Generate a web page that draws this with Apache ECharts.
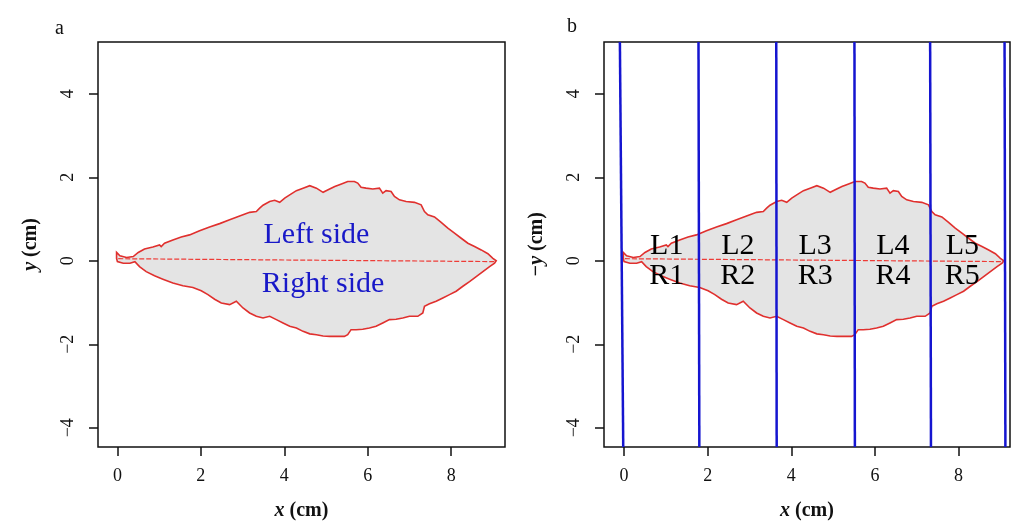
<html>

<head>
  <title>Leaf outline and sections</title>
  <script src="https://cdn.jsdelivr.net/npm/echarts@6/dist/echarts.min.js"></script>
</head>

<body style="margin:0">
  <div id="main" style="width: 1012px;height:523px;"></div>
  <script>
    // upper edge of the leaf (left side), base -> tip, in cm
    const upperX = [-0.02, 0.06, 0.22, 0.38, 0.50, 0.65, 0.85, 1.01, 1.05, 1.13, 1.33, 1.53, 1.73, 1.97, 2.21, 2.45, 2.69, 2.85, 3.01, 3.17, 3.33, 3.41, 3.49, 3.65, 3.77, 3.89, 4.01, 4.13, 4.29, 4.45, 4.61, 4.77, 4.93, 5.05, 5.21, 5.37, 5.52, 5.68, 5.76, 5.84, 5.96, 6.12, 6.28, 6.36, 6.44, 6.56, 6.64, 6.76, 6.92, 7.12, 7.28, 7.36, 7.44, 7.60, 7.76, 7.92, 8.08, 8.24, 8.40, 8.56, 8.72, 8.88, 9.00, 9.08]
    const upperY = [0.20, 0.12, 0.08, 0.10, 0.20, 0.28, 0.33, 0.38, 0.34, 0.42, 0.50, 0.57, 0.62, 0.72, 0.81, 0.89, 0.98, 1.04, 1.10, 1.16, 1.18, 1.26, 1.33, 1.42, 1.45, 1.40, 1.50, 1.58, 1.68, 1.74, 1.80, 1.74, 1.64, 1.70, 1.78, 1.84, 1.90, 1.90, 1.86, 1.76, 1.74, 1.72, 1.74, 1.62, 1.68, 1.66, 1.54, 1.46, 1.42, 1.40, 1.34, 1.18, 1.10, 1.05, 0.92, 0.78, 0.66, 0.54, 0.42, 0.34, 0.26, 0.17, 0.06, 0.00]
    // lower edge (right side), tip -> base
    const lowerX = [9.04, 8.92, 8.76, 8.60, 8.44, 8.28, 8.12, 7.96, 7.80, 7.64, 7.48, 7.36, 7.32, 7.20, 7.00, 6.84, 6.68, 6.52, 6.36, 6.20, 6.04, 5.88, 5.72, 5.60, 5.52, 5.44, 5.29, 5.09, 4.93, 4.77, 4.61, 4.45, 4.29, 4.13, 3.97, 3.81, 3.65, 3.49, 3.33, 3.17, 3.01, 2.85, 2.69, 2.49, 2.33, 2.17, 2.01, 1.81, 1.57, 1.33, 1.09, 0.89, 0.69, 0.53, 0.42, 0.30, 0.14, 0.00, -0.02]
    const lowerY = [-0.06, -0.14, -0.26, -0.38, -0.50, -0.61, -0.73, -0.81, -0.89, -0.97, -1.03, -1.09, -1.25, -1.33, -1.33, -1.37, -1.40, -1.41, -1.49, -1.57, -1.61, -1.64, -1.65, -1.65, -1.77, -1.81, -1.81, -1.81, -1.80, -1.77, -1.75, -1.69, -1.61, -1.57, -1.49, -1.41, -1.33, -1.37, -1.33, -1.25, -1.13, -0.97, -1.05, -1.01, -0.92, -0.81, -0.72, -0.64, -0.60, -0.53, -0.44, -0.36, -0.26, -0.14, -0.02, -0.06, -0.06, -0.02, 0.06]
    // midrib, base -> tip
    const midX = [0.02, 9.08]
    const midY = [0.05, -0.02]
    // section cuts in panel b: x where each cut meets the top / bottom of the frame
    const cutTop = [-0.10, 1.78, 3.64, 5.51, 7.32, 9.10]
    const cutBottom = [-0.02, 1.80, 3.65, 5.52, 7.34, 9.12]
    // section labels in panel b
    const sectionNo = ['1', '2', '3', '4', '5']
    const sectionX = [1.02, 2.72, 4.57, 6.43, 8.09]
    const leftY = 0.35
    const rightY = -0.36
    // side labels in panel a
    const sideNames = ['Left side', 'Right side']
    const sideX = [4.77, 4.93]
    const sideY = [0.62, -0.55]
    // ticks
    const xTicks = [0, 2, 4, 6, 8]
    const yTicks = [-4, -2, 0, 2, 4]

    const Y_MIN = -4.46, Y_MAX = 5.24
    const serif = "'Liberation Serif', 'DejaVu Serif', serif"
    const chart = echarts.init(document.getElementById('main'));

    const leafPts = []
    upperX.forEach((x, i) => leafPts.push([x, upperY[i]]))
    lowerX.forEach((x, i) => leafPts.push([x, lowerY[i]]))
    const midPts = midX.map((x, i) => [x, midY[i]])

    const titleStyle = {
      fontFamily: serif, fontSize: 20, fontWeight: 'bold', color: '#111',
      rich: { i: { fontFamily: serif, fontSize: 20, fontWeight: 'bold', fontStyle: 'italic', color: '#111' } }
    }

    function xAxis(idx, min, max) {
      return {
        gridIndex: idx, type: 'value', min: min, max: max, position: 'bottom',
        name: '{i|x} (cm)', nameLocation: 'middle', nameGap: 48,
        nameTextStyle: titleStyle,
        axisLine: { show: false, onZero: false },
        axisTick: { show: true, inside: false, length: 9, customValues: xTicks, lineStyle: { color: '#111', width: 1.5 } },
        axisLabel: { customValues: xTicks, margin: 16, fontFamily: serif, fontSize: 18, color: '#111' },
        splitLine: { show: false }
      }
    }
    function yAxis(idx, title) {
      return {
        gridIndex: idx, type: 'value', min: Y_MIN, max: Y_MAX, position: 'left',
        name: title, nameLocation: 'middle', nameGap: 51, nameRotate: 90,
        nameTextStyle: titleStyle,
        axisLine: { show: false, onZero: false },
        axisTick: { show: true, inside: false, length: 9, customValues: yTicks, lineStyle: { color: '#111', width: 1.5 } },
        axisLabel: {
          customValues: yTicks, rotate: 90, margin: 16, fontFamily: serif, fontSize: 18, color: '#111',
          formatter: v => String(v).replace('-', '\u2212')
        },
        splitLine: { show: false }
      }
    }

    // leaf outline + fill, and the dashed midrib drawn on top
    function leafSeries(idx) {
      return {
        type: 'custom', xAxisIndex: idx, yAxisIndex: idx, silent: true, z: 1,
        data: leafPts,
        renderItem: function (params, api) {
          if (params.dataIndex !== 0) return null;
          const pts = leafPts.map(p => api.coord(p));
          const mid = midPts.map(p => api.coord(p));
          return {
            type: 'group', children: [
              { type: 'polygon', shape: { points: pts }, style: { fill: '#e4e4e4', stroke: '#e0302e', lineWidth: 1.6 } },
              { type: 'polyline', shape: { points: mid }, style: { fill: null, stroke: '#ee3b36', lineWidth: 1.2, lineDash: [5, 2] } }
            ]
          };
        }
      }
    }

    const series = [leafSeries(0), leafSeries(1)]

    series.push({
      type: 'scatter', xAxisIndex: 0, yAxisIndex: 0, silent: true, symbolSize: 1, z: 5,
      itemStyle: { color: 'rgba(0,0,0,0)', opacity: 1 },
      data: sideNames.map((n, i) => [sideX[i], sideY[i], n]),
      label: {
        show: true, position: 'inside', formatter: p => p.data[2], textBorderWidth: 0,
        fontFamily: serif, fontSize: 30, color: '#1818c8'
      }
    })

    cutTop.forEach((t, i) => {
      series.push({
        type: 'line', xAxisIndex: 1, yAxisIndex: 1, silent: true, symbol: 'none', z: 4,
        data: [[cutBottom[i], Y_MIN], [t, Y_MAX]],
        lineStyle: { color: '#1515d0', width: 2.5 }
      })
    })

    series.push({
      type: 'scatter', xAxisIndex: 1, yAxisIndex: 1, silent: true, symbolSize: 1, z: 5,
      itemStyle: { color: 'rgba(0,0,0,0)', opacity: 1 },
      data: sectionNo.map((n, i) => [sectionX[i], leftY, 'L' + n])
        .concat(sectionNo.map((n, i) => [sectionX[i], rightY, 'R' + n])),
      label: {
        show: true, position: 'inside', formatter: p => p.data[2], textBorderWidth: 0,
        fontFamily: serif, fontSize: 30, color: '#000'
      }
    })

    const option = {
      animation: false,
      backgroundColor: '#fff',
      graphic: [
        { type: 'text', x: 55, y: 13, style: { text: 'a', font: '20px ' + serif, fill: '#111' } },
        { type: 'text', x: 567, y: 11, style: { text: 'b', font: '20px ' + serif, fill: '#111' } }
      ],
      grid: [
        { left: 98, top: 42, width: 407, height: 405, show: true, borderColor: '#111', borderWidth: 1.5, backgroundColor: 'transparent', containLabel: false, outerBoundsMode: 'none' },
        { left: 604, top: 42, width: 406, height: 405, show: true, borderColor: '#111', borderWidth: 1.5, backgroundColor: 'transparent', containLabel: false, outerBoundsMode: 'none' }
      ],
      xAxis: [xAxis(0, -0.465, 9.29), xAxis(1, -0.48, 9.23)],
      yAxis: [yAxis(0, '{i|y} (cm)'), yAxis(1, '{i|\u2212y} (cm)')],
      series: series
    };

    chart.setOption(option, true);
  </script>
</body>

</html>
